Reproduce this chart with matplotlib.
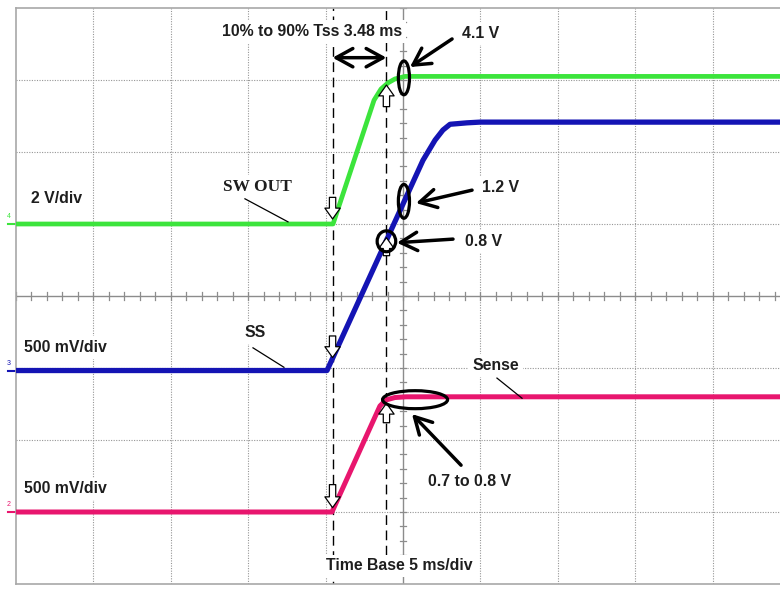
import numpy as np
import matplotlib.pyplot as plt
from matplotlib.patches import Ellipse

# time in ms (5 ms/div, 10 div), vertical position in screen divisions (8 div)
sw_t = [-25, -4.52, -1.87, -1.42, -0.97, -0.52, 0.13, 25]
sw_v = [0, 0, 3.44, 3.75, 3.92, 4.03, 4.1, 4.1]

ss_t = [-25, -4.91, 1.29, 2.07, 2.58, 3.04, 4.13, 4.97, 25]
ss_v = [0, 0, 1.46, 1.60, 1.67, 1.71, 1.72, 1.725, 1.725]

sense_t = [-25, -4.59, -1.49, -1.10, -0.52, 0.2, 25]
sense_v = [0, 0, 0.736, 0.778, 0.795, 0.8, 0.8]

# channel ground position (div) and volts/div
SW_OFF, SW_SCALE = 5.0, 2.0
SS_OFF, SS_SCALE = 2.965, 0.5
SN_OFF, SN_SCALE = 1.0, 0.5

t_start = -4.55
tss = 3.48
t_end = t_start + tss

GREEN = '#3ce43c'
BLUE = '#1414b4'
PINK = '#e8166e'
TXT = '#1e1e1e'


def div(v, off, scale):
    return off + np.asarray(v, dtype=float) / scale


plt.rcParams['font.family'] = ['Liberation Sans', 'DejaVu Sans']
fig = plt.figure(figsize=(7.8, 5.9), dpi=100)
ax = fig.add_axes([16 / 780, 6 / 590, 774 / 780, 576 / 590])
ax.set_xlim(-25, 25)
ax.set_ylim(0, 8)
ax.set_xticks([])
ax.set_yticks([])
for s in ax.spines.values():
    s.set_color('#a8a8a8')
    s.set_linewidth(1.2)

# graticule
dot = (0, (1, 1.3))
for x in np.arange(-20, 25, 5):
    if x != 0:
        ax.axvline(x, color='#969696', lw=0.8, ls=dot, zorder=1)
for y in range(1, 8):
    if y != 4:
        ax.axhline(y, color='#969696', lw=0.8, ls=dot, zorder=1)
ax.axvline(0, color='#8c8c8c', lw=1.0, zorder=1)
ax.axhline(4, color='#8c8c8c', lw=1.0, zorder=1)
for x in np.arange(-25, 25.01, 1):
    ax.plot([x, x], [4 - 0.05, 4 + 0.05], color='#8c8c8c', lw=0.9, zorder=1)
for y in np.arange(0, 8.01, 0.2):
    ax.plot([-0.22, 0.22], [y, y], color='#8c8c8c', lw=0.9, zorder=1)

# cursors
ax.plot([t_start, t_start], [-0.2, 8], color='black', lw=1.0, ls=(0, (7, 4)), zorder=2)
ax.plot([t_end, t_end], [0.4, 8], color='black', lw=1.0, ls=(0, (7, 4)), zorder=2)

# traces
ax.plot(sw_t, div(sw_v, SW_OFF, SW_SCALE), color=GREEN, lw=3.4, zorder=4)
ax.plot(ss_t, div(ss_v, SS_OFF, SS_SCALE), color=BLUE, lw=3.8, zorder=4)
ax.plot(sense_t, div(sense_v, SN_OFF, SN_SCALE), color=PINK, lw=3.6, zorder=4)

# ground markers
for lab, off, c in [('4', SW_OFF, GREEN), ('3', SS_OFF, BLUE), ('2', SN_OFF, PINK)]:
    ax.plot([-25.5, -25], [off, off], color=c, lw=1.5, clip_on=False)
    ax.text(-25.6, off + 0.1, lab, color=c, fontsize=5, ha='left', va='center', clip_on=False)

# hollow cursor arrows
hollow = dict(arrowstyle='simple,head_width=0.85,head_length=0.6,tail_width=0.35',
              fc='white', ec='black', lw=0.9, mutation_scale=13, shrinkA=0, shrinkB=0)
marks = [
    (t_start, div(0, SW_OFF, SW_SCALE) + 0.07, 0.3),
    (t_end, 6.93, -0.3),
    (t_start, div(0, SS_OFF, SS_SCALE) + 0.18, 0.3),
    (t_end, 4.81, -0.25),
    (t_start, div(0, SN_OFF, SN_SCALE) + 0.06, 0.32),
    (t_end, 2.51, -0.27),
]
for x, tip, ln in marks:
    ax.annotate('', xy=(x, tip), xytext=(x, tip + ln), arrowprops=hollow, zorder=5)

# circled regions
ring = dict(fill=False, ec='black', lw=2.3, zorder=6)
ax.add_patch(Ellipse((0.06, div(4.1, SW_OFF, SW_SCALE) - 0.02), 0.72, 0.47, **ring))
ax.add_patch(Ellipse((0.06, div(1.2, SS_OFF, SS_SCALE) - 0.05), 0.72, 0.47, **ring))
ax.add_patch(Ellipse((t_end, 4.76), 1.2, 0.29, **ring))
ax.add_patch(Ellipse((0.78, div(0.8, SN_OFF, SN_SCALE) - 0.04), 4.2, 0.25, **ring))

# pointer arrows
arr = dict(arrowstyle='->,head_length=0.6,head_width=0.33', color='black', lw=2.5,
           mutation_scale=20, shrinkA=0, shrinkB=0)
ax.annotate('', xy=(0.45, 7.18), xytext=(3.17, 7.57), arrowprops=arr, zorder=7)
ax.annotate('', xy=(0.84, 5.29), xytext=(4.46, 5.47), arrowprops=arr, zorder=7)
ax.annotate('', xy=(-0.39, 4.74), xytext=(3.23, 4.79), arrowprops=arr, zorder=7)
ax.annotate('', xy=(0.58, 2.36), xytext=(3.75, 1.65), arrowprops=arr, zorder=7)
ax.annotate('', xy=(t_start, 7.31), xytext=(t_end, 7.31),
            arrowprops=dict(arr, arrowstyle='<->,head_length=0.6,head_width=0.33'), zorder=7)

# leader lines
for xs, ys in [([-10.21, -7.43], [5.35, 5.03]),
               ([-9.69, -7.69], [3.28, 3.01]),
               ([6.07, 7.69], [2.86, 2.58])]:
    ax.plot(xs, ys, color='black', lw=0.9, zorder=6)

# labels
box = dict(boxstyle='square,pad=0.25', fc='white', ec='none')
lab = dict(fontsize=11.4, fontweight='bold', color=TXT, ha='left', va='center', zorder=3, bbox=box)
ax.text(-11.69, 7.67, '10% to 90% Tss 3.48 ms', **lab)
ax.text(3.81, 7.65, '4.1 V', **lab)
ax.text(-24.03, 5.35, '2 V/div', **lab)
ax.text(-11.63, 5.51, 'SW OUT', **dict(lab, family='Liberation Serif', fontsize=12.5))
ax.text(5.10, 5.50, '1.2 V', **lab)
ax.text(4.01, 4.76, '0.8 V', **lab)
ax.text(-24.48, 3.28, '500 mV/div', **lab)
ax.text(-10.21, 3.49, 'SS', **lab)
ax.text(4.46, 3.03, 'Sense', **lab)
ax.text(-24.48, 1.32, '500 mV/div', **lab)
ax.text(1.61, 1.43, '0.7 to 0.8 V', **lab)
ax.text(-4.97, 0.25, 'Time Base 5 ms/div', **lab)

fig.savefig('out.png', dpi=100)
